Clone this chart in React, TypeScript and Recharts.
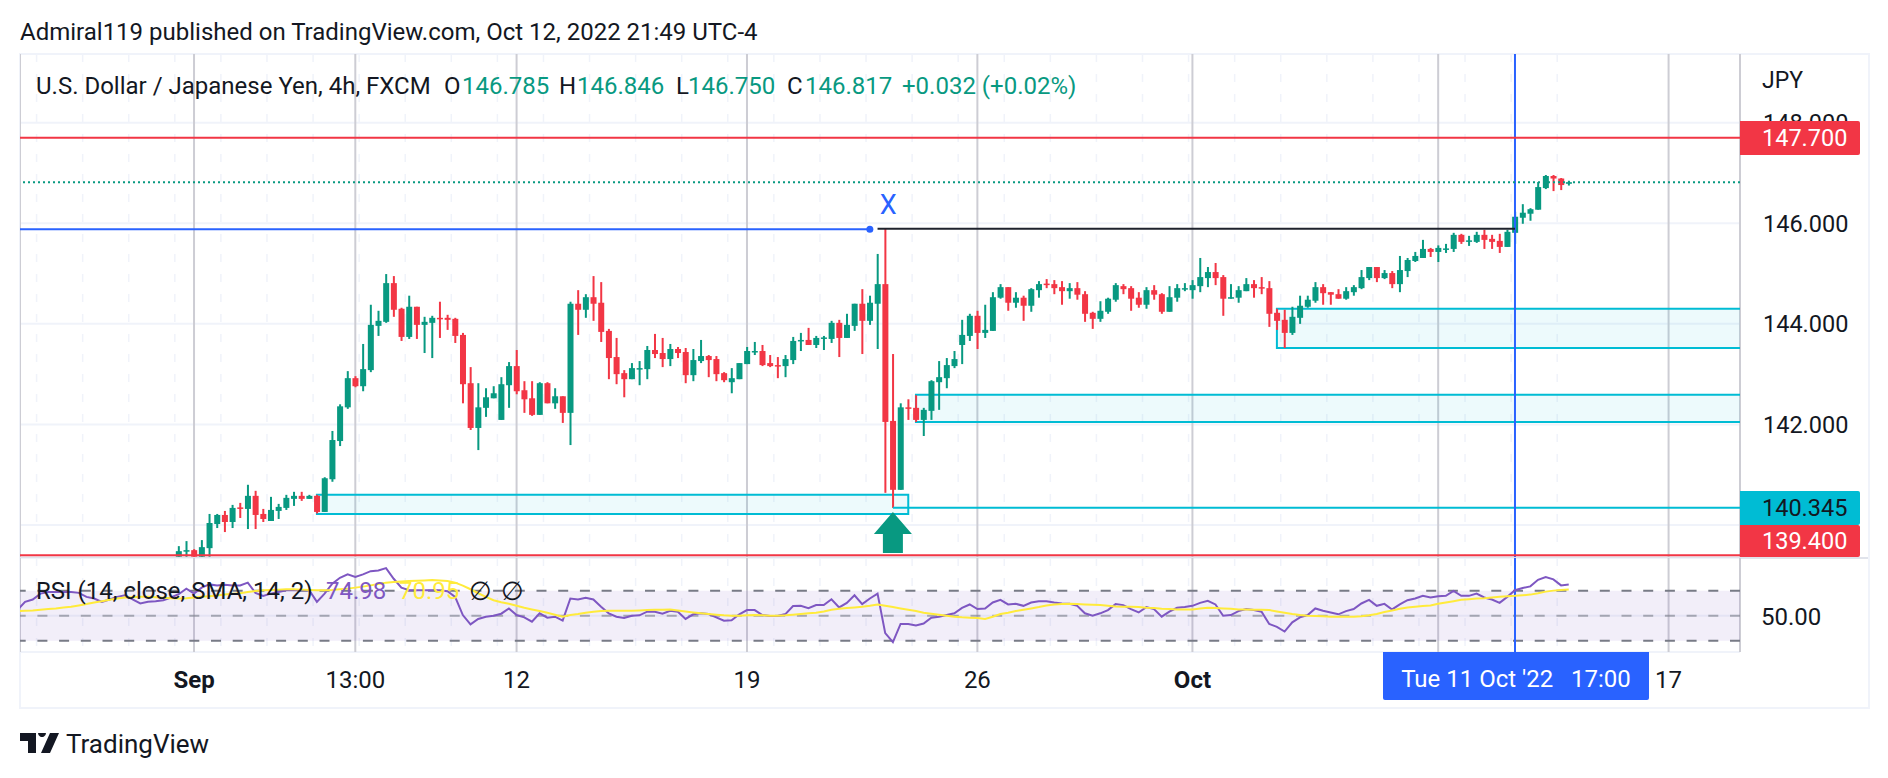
import { ComposedChart, Bar, Line, XAxis, YAxis, CartesianGrid, ReferenceLine, ReferenceArea, ReferenceDot } from "recharts";

const FIRST_CANDLE = -2;
const FIRST_RSI = -23;

const opens = [
  139.37,139.47,139.50,139.37,139.54,140.02,140.20,140.06,140.35,140.32,
  140.58,140.22,140.08,140.28,140.34,140.52,140.58,140.52,140.58,140.26,
  140.91,141.67,142.34,142.92,142.76,143.08,143.96,144.04,144.81,144.30,
  143.74,144.34,143.98,144.02,144.12,144.12,144.10,143.78,142.82,141.93,
  142.33,142.52,142.09,142.78,143.16,142.68,142.52,142.19,142.82,142.42,
  142.56,142.23,144.40,144.28,144.53,144.42,143.86,143.34,143.02,142.90,
  143.10,143.10,143.48,143.42,143.30,143.50,143.44,142.98,143.26,143.36,
  143.30,143.02,142.84,142.90,143.20,143.44,143.46,143.22,143.18,143.16,
  143.28,143.66,143.68,143.58,143.71,143.70,144.02,143.72,143.96,144.40,
  144.06,144.40,144.79,142.07,140.70,142.34,142.33,142.09,142.27,142.84,
  142.92,143.16,143.58,143.76,144.16,143.82,143.86,144.52,144.73,144.42,
  144.52,144.36,144.67,144.80,144.79,144.73,144.65,144.71,144.59,144.22,
  144.10,144.24,144.48,144.75,144.71,144.52,144.38,144.67,144.59,144.24,
  144.52,144.69,144.67,144.75,144.91,145.03,144.93,144.50,144.52,144.65,
  144.79,144.73,144.71,144.22,144.08,143.82,144.12,144.34,144.46,144.73,
  144.63,144.59,144.50,144.63,144.71,144.91,145.13,144.91,145.01,144.79,
  145.05,145.25,145.31,145.49,145.43,145.48,145.49,145.77,145.64,145.63,
  145.77,145.69,145.65,145.53,145.81,146.11,146.19,146.27,146.70,146.94,146.89,146.785,
];

const highs = [
  139.58,139.68,139.52,139.70,140.22,140.22,140.28,140.40,140.44,140.80,
  140.68,140.32,140.56,140.42,140.60,140.66,140.66,140.60,140.60,140.95,
  141.87,142.40,143.06,142.96,143.60,144.38,144.26,144.99,144.95,144.32,
  144.56,144.34,144.14,144.16,144.44,144.18,144.12,143.82,143.14,142.82,
  142.72,142.76,142.94,143.24,143.48,142.86,142.86,142.84,142.84,142.72,
  142.56,144.44,144.67,144.59,144.95,144.83,143.90,143.72,143.08,143.22,
  143.26,143.56,143.80,143.72,143.60,143.54,143.52,143.50,143.68,143.38,
  143.36,143.04,143.12,143.22,143.54,143.64,143.58,143.38,143.34,143.38,
  143.74,143.82,143.92,143.76,143.76,144.06,144.08,144.20,144.40,144.69,
  144.56,145.39,145.89,143.40,142.42,142.50,142.58,142.33,142.88,143.26,
  143.32,143.46,144.08,144.20,144.26,144.38,144.63,144.79,144.73,144.63,
  144.56,144.71,144.85,144.89,144.87,144.85,144.81,144.83,144.65,144.24,
  144.45,144.52,144.81,144.79,144.75,144.63,144.73,144.77,144.61,144.75,
  144.79,144.81,144.87,145.31,145.13,145.21,144.97,144.79,144.75,144.91,
  144.87,144.93,144.85,144.30,144.28,144.34,144.56,144.56,144.83,144.79,
  144.63,144.69,144.73,144.77,145.07,145.13,145.13,145.07,145.05,145.35,
  145.31,145.43,145.67,145.51,145.56,145.59,145.81,145.79,145.75,145.83,
  145.87,145.77,145.79,145.87,146.23,146.38,146.30,146.82,146.96,146.96,146.90,146.846,
];

const lows = [
  139.37,139.37,139.37,139.37,139.37,139.94,139.86,139.94,140.14,139.92,
  139.92,140.06,140.08,140.12,140.30,140.38,140.48,140.52,140.23,140.26,
  140.86,141.57,142.31,142.74,142.66,143.04,143.76,144.02,144.14,143.66,
  143.70,143.70,143.42,143.32,143.72,143.88,143.62,142.42,141.89,141.49,
  142.15,142.52,142.09,142.33,142.60,142.23,142.17,142.19,142.42,142.31,
  142.03,141.59,143.78,144.12,144.06,143.64,142.90,142.80,142.54,142.90,
  142.78,142.90,143.32,143.14,143.16,143.32,142.82,142.86,143.22,142.94,
  142.86,142.84,142.62,142.90,143.20,143.38,143.16,143.14,142.92,142.94,
  143.20,143.46,143.58,143.52,143.48,143.62,143.34,143.72,143.86,143.40,
  143.98,143.50,140.64,140.34,140.70,142.09,142.05,141.77,142.09,142.29,
  142.72,143.12,143.20,143.66,143.50,143.72,143.86,144.50,144.26,144.32,
  144.06,144.24,144.52,144.71,144.59,144.38,144.50,144.48,144.04,143.90,
  144.04,144.20,144.44,144.59,144.26,144.32,144.30,144.48,144.20,144.24,
  144.44,144.65,144.50,144.63,144.73,144.77,144.16,144.50,144.42,144.65,
  144.52,144.59,143.94,143.88,143.52,143.78,144.00,144.32,144.42,144.38,
  144.38,144.50,144.48,144.56,144.69,144.87,144.83,144.89,144.71,144.63,
  144.93,145.23,145.31,145.33,145.23,145.41,145.43,145.59,145.55,145.61,
  145.49,145.49,145.41,145.53,145.59,145.99,146.05,146.27,146.68,146.64,146.66,146.750,
];

const closes = [
  139.48,139.50,139.37,139.56,140.04,140.20,140.06,140.34,140.32,140.58,
  140.20,140.12,140.30,140.36,140.54,140.58,140.52,140.58,140.26,140.93,
  141.69,142.36,142.92,142.76,143.10,143.98,144.06,144.81,144.28,143.74,
  144.34,143.98,144.04,144.12,144.10,144.08,143.76,142.80,141.93,142.34,
  142.54,142.62,142.80,143.16,142.66,142.50,142.19,142.82,142.42,142.56,
  142.23,144.40,144.28,144.53,144.40,143.84,143.32,143.00,142.90,143.12,
  143.12,143.48,143.40,143.30,143.50,143.42,142.98,143.28,143.36,143.28,
  143.00,142.88,142.92,143.22,143.46,143.46,143.18,143.16,143.17,143.30,
  143.66,143.68,143.58,143.72,143.73,144.02,143.72,143.98,144.40,144.06,
  144.42,144.79,142.05,140.70,142.34,142.31,142.09,142.29,142.86,142.94,
  143.18,143.30,143.78,144.16,143.82,143.88,144.53,144.73,144.42,144.52,
  144.36,144.69,144.79,144.78,144.71,144.65,144.71,144.58,144.20,144.10,
  144.26,144.50,144.77,144.69,144.50,144.38,144.67,144.58,144.24,144.53,
  144.71,144.71,144.77,144.93,145.03,144.91,144.50,144.53,144.67,144.79,
  144.71,144.70,144.20,144.06,143.82,144.14,144.36,144.48,144.73,144.61,
  144.58,144.50,144.65,144.73,144.93,145.13,144.91,145.01,144.79,145.07,
  145.27,145.35,145.49,145.43,145.51,145.50,145.77,145.63,145.66,145.77,
  145.67,145.63,145.53,145.83,146.13,146.21,146.28,146.72,146.94,146.89,146.76,146.817,
];

const rsiValues = [
  54.5,61.1,63.0,67.7,69.0,69.0,69.0,69.0,68.3,65.1,
  63.8,61.1,63.0,65.1,66.4,63.0,59.8,61.1,61.6,62.4,
  64.6,67.2,71.7,67.7,72.5,75.1,74.3,74.9,74.3,74.3,
  76.5,68.3,65.9,67.7,69.0,70.4,70.4,70.4,70.4,61.1,
  67.7,75.7,80.4,83.1,81.0,83.1,85.7,86.2,88.1,79.6,
  72.5,70.4,70.4,70.4,70.4,70.4,69.6,65.1,50.5,43.1,
  47.4,49.2,50.0,51.6,55.8,50.5,48.7,45.2,51.9,48.4,
  49.2,46.0,63.8,63.0,64.3,63.0,57.1,51.9,49.2,48.1,
  50.0,50.3,53.2,53.2,51.6,54.0,53.2,47.4,51.1,51.9,
  51.3,48.7,46.0,46.3,51.1,54.5,54.5,50.5,49.7,49.7,
  51.3,57.7,57.9,56.1,58.5,58.5,63.2,56.6,60.3,66.4,
  59.3,63.8,67.7,36.0,28.8,43.4,43.4,42.1,43.7,48.4,
  49.2,50.5,51.9,56.3,59.0,55.3,55.8,60.6,62.7,59.0,
  59.5,57.9,60.6,61.6,61.6,60.6,59.8,59.5,57.9,51.9,
  50.0,51.9,54.5,59.3,58.5,55.3,52.6,56.9,55.3,49.2,
  53.2,56.3,56.9,57.9,60.3,61.9,59.0,50.0,50.5,53.7,
  55.3,54.5,53.2,43.4,41.0,37.3,44.7,48.7,50.5,55.8,
  54.0,52.6,51.1,53.7,55.3,59.8,62.7,57.9,59.5,55.0,
  59.0,62.4,63.8,65.9,64.6,65.6,65.9,69.8,65.9,65.9,
  67.7,64.6,63.0,60.3,65.1,70.4,72.2,73.5,78.8,81.0,
  79.1,74.3,74.98,
];

const rsiMaValues = [
  53.7,54.0,54.2,54.8,55.3,55.8,56.6,57.1,58.2,59.3,
  60.6,61.6,62.7,63.8,64.6,64.8,65.1,65.1,64.8,64.3,
  64.0,63.8,64.0,64.6,65.1,65.6,66.1,66.9,67.5,68.0,
  69.0,69.8,70.4,70.6,70.9,71.2,71.2,70.9,70.6,70.4,
  70.4,70.6,71.2,71.7,72.5,73.3,74.3,75.4,76.5,77.0,
  77.5,77.8,78.0,78.3,78.6,78.3,77.8,76.5,74.1,71.2,
  68.0,65.1,62.4,60.8,59.5,57.9,56.3,55.0,53.7,52.4,
  50.8,49.2,50.5,51.3,52.4,53.2,53.7,54.0,54.0,54.0,
  54.0,54.2,54.5,54.8,54.8,55.0,54.2,53.4,52.6,51.9,
  51.3,50.8,50.3,50.0,50.0,50.3,50.5,50.3,50.0,50.0,
  50.3,50.8,51.3,51.9,52.4,53.4,54.8,55.6,56.1,56.6,
  57.1,57.9,59.0,57.9,56.9,55.8,54.8,53.7,52.4,51.6,
  50.8,50.0,49.2,48.7,48.4,48.1,47.4,49.2,51.3,52.4,
  53.7,54.8,55.8,56.9,58.2,59.0,59.3,59.5,59.3,59.0,
  58.7,58.5,57.9,57.4,57.1,57.1,56.9,56.3,56.1,55.6,
  55.3,55.0,55.0,55.0,55.8,56.3,56.1,55.8,55.6,55.0,
  55.0,54.8,54.8,54.5,53.4,52.4,51.3,50.5,50.0,49.7,
  49.5,49.2,49.2,49.2,49.2,49.5,50.3,51.3,52.9,54.2,
  55.6,56.6,57.1,57.7,58.2,59.5,60.6,61.6,62.7,63.2,
  63.8,64.0,64.6,65.1,65.6,65.9,66.4,66.9,68.0,69.3,
  70.1,70.6,70.95,
];

// time axis labels and the bar index they sit on (10 Oct is covered by the crosshair date)
const timeTicks = [0, 21, 42, 72, 102, 130, 162, 192];
const timeLabels = ["Sep", "13:00", "12", "19", "26", "Oct", "", "17"];
const boldLabels = ["Sep", "Oct"];
const minorTimeTicks = [
  -20.5, -14.5, -8.5, -2.5, 3.5, 9.5, 15.5, 21.5, 27.5, 33.5, 39.5, 45.5, 51.5, 57.5, 63.5, 69.5, 75.5,
  81.5, 87.5, 93.5, 99.5, 105.5, 111.5, 117.5, 123.5, 129.5, 135.5, 141.5, 147.5, 153.5, 159.5, 165.5, 171.5, 177.5,
];
const priceTicks = [140, 142, 144, 146, 148];
const rsiTicks = [50];

const CROSSHAIR_BAR = 172;
const LAST_PRICE = 146.817;
const RED_LEVELS = [147.7, 139.4];
const X_DOMAIN = [-22.66, 201.3];

const GREEN = "#089981";
const RED = "#f23645";
const CYAN = "#00bcd4";
const BLUE = "#2962ff";
const INK = "#131722";
const FONT = "Roboto, sans-serif";

const candleData = opens.map((open, k) => ({
  bar: FIRST_CANDLE + k,
  open,
  high: highs[k],
  low: lows[k],
  close: closes[k],
}));

const rsiData = rsiValues.map((rsi, k) => ({
  bar: FIRST_RSI + k,
  rsi,
  ma: rsiMaValues[k],
}));

// the grid sits under the cyan boxes, reference lines would not
function minorGridLines({ offset }: any) {
  const [from, to] = X_DOMAIN;
  return minorTimeTicks.map((t) => offset.left + ((t - from) / (to - from)) * offset.width);
}

function Candle(props: any) {
  const { x, y, width, height, payload } = props;
  const { open, high, low, close } = payload;
  const color = close >= open ? GREEN : RED;
  const perUnit = high > low ? height / (high - low) : 0;
  const bodyTop = y + (high - Math.max(open, close)) * perUnit;
  const bodyHeight = Math.max(Math.abs(open - close) * perUnit, 1.5);
  const mid = x + width / 2;
  return (
    <g>
      <rect x={mid - 1} y={y} width={2} height={Math.max(height, 1)} fill={color} />
      <rect x={x} y={bodyTop} width={width} height={bodyHeight} fill={color} />
    </g>
  );
}

function UpArrow(props: any) {
  const { cx, cy } = props;
  return (
    <path
      d={`M${cx} ${cy - 22}L${cx + 19} ${cy}H${cx + 10}V${cy + 19}H${cx - 10}V${cy}H${cx - 19}Z`}
      fill={GREEN}
    />
  );
}

function TimeTick(props: any) {
  const { x, y, payload } = props;
  const label = timeLabels[timeTicks.indexOf(payload.value)];
  return (
    <text
      x={x}
      y={y + 28}
      textAnchor="middle"
      fontFamily={FONT}
      fontSize={24}
      fontWeight={boldLabels.includes(label) ? 700 : 400}
      fill={INK}
    >
      {label}
    </text>
  );
}

function Label(props: any) {
  const { x, y, w, h, bg, color, children } = props;
  return (
    <div
      style={{
        position: "absolute",
        left: x,
        top: y,
        width: w,
        height: h,
        background: bg,
        color,
        borderRadius: "0 2px 2px 0",
        fontSize: 23.5,
        lineHeight: `${h}px`,
        paddingLeft: 22,
        boxSizing: "border-box",
      }}
    >
      {children}
    </div>
  );
}

function Txt(props: any) {
  const { x, y, size = 24, color = INK, family, children } = props;
  return (
    <span style={{ position: "absolute", left: x, top: y, fontSize: size, color, fontFamily: family, whiteSpace: "pre", lineHeight: "26px" }}>
      {children}
    </span>
  );
}

export default function App() {
  return (
    <div style={{ position: "absolute", left: 0, top: 0, width: 1888, height: 778, background: "#fff", fontFamily: FONT, overflow: "hidden" }}>
      <Txt x={20} y={19}>Admiral119 published on TradingView.com, Oct 12, 2022 21:49 UTC-4</Txt>

      {/* frame */}
      <div style={{ position: "absolute", left: 19, top: 53, width: 1851, height: 656, border: "2px solid #f0f3fa", boxSizing: "border-box" }} />

      {/* price pane */}
      <div style={{ position: "absolute", left: 20, top: 54 }}>
        <ComposedChart width={1848} height={503} data={candleData} margin={{ top: 0, right: 0, bottom: 0, left: 0 }}>
          <CartesianGrid vertical={false} stroke="#f0f3fa" strokeWidth={2} />
          <CartesianGrid horizontal={false} stroke="#f0f3fa" strokeWidth={1.5} strokeDasharray="8 12" verticalCoordinatesGenerator={minorGridLines} />
          <CartesianGrid horizontal={false} stroke="#cdcdd4" strokeWidth={2} />
          <XAxis dataKey="bar" type="number" domain={X_DOMAIN} ticks={timeTicks} allowDataOverflow hide />
          <YAxis
            orientation="right"
            width={128}
            domain={[139.364, 149.366]}
            ticks={priceTicks}
            interval={0}
            allowDataOverflow
            axisLine={false}
            tickLine={false}
            tickMargin={17}
            tickFormatter={(v: number) => (v === 140 ? "" : v.toFixed(3))}
            tick={{ fontSize: 23.5, fill: INK, fontFamily: FONT }}
          />
          <ReferenceArea x1={16} x2={93} y1={140.22} y2={140.6} fill={CYAN} fillOpacity={0.07} stroke={CYAN} strokeWidth={2} strokeOpacity={1} />
          <ReferenceArea x1={94} x2={215} y1={142.05} y2={142.59} fill={CYAN} fillOpacity={0.07} stroke={CYAN} strokeWidth={2} strokeOpacity={1} ifOverflow="hidden" />
          <ReferenceArea x1={141} x2={215} y1={143.52} y2={144.3} fill={CYAN} fillOpacity={0.07} stroke={CYAN} strokeWidth={2} strokeOpacity={1} ifOverflow="hidden" />
          <ReferenceLine segment={[{ x: 91, y: 140.345 }, { x: 201.3, y: 140.345 }]} stroke={CYAN} strokeWidth={2} />
          <ReferenceLine x={CROSSHAIR_BAR} stroke={BLUE} strokeWidth={2} />
          {RED_LEVELS.map((p) => (
            <ReferenceLine key={p} y={p} stroke={RED} strokeWidth={2} />
          ))}
          <ReferenceLine y={LAST_PRICE} stroke={GREEN} strokeWidth={2} strokeDasharray="2 3" />
          <ReferenceLine segment={[{ x: -22.66, y: 145.88 }, { x: 88, y: 145.88 }]} stroke={BLUE} strokeWidth={2} />
          <ReferenceLine segment={[{ x: 89, y: 145.89 }, { x: 172, y: 145.89 }]} stroke="#1e222d" strokeWidth={2} />
          <ReferenceDot x={88} y={145.88} r={3.5} fill={BLUE} stroke="none" />
          <ReferenceDot
            x={90.4}
            y={146.38}
            r={0}
            label={{ value: "X", position: "center", fill: BLUE, fontSize: 27, fontFamily: FONT }}
          />
          <Bar dataKey={(d: any) => [d.low, d.high]} barSize={6} shape={Candle} isAnimationActive={false} />
          <ReferenceDot x={91} y={139.82} r={1} shape={UpArrow} />
        </ComposedChart>
      </div>

      {/* pane separator */}
      <div style={{ position: "absolute", left: 20, top: 556.5, width: 1848, height: 2, background: "#e0e3eb" }} />

      {/* rsi pane */}
      <div style={{ position: "absolute", left: 20, top: 558 }}>
        <ComposedChart width={1848} height={149} data={rsiData} margin={{ top: 0, right: 0, bottom: 0, left: 0 }}>
          <CartesianGrid vertical={false} stroke="#f0f3fa" strokeWidth={2} />
          <CartesianGrid horizontal={false} stroke="#f0f3fa" strokeWidth={1.5} strokeDasharray="8 12" verticalCoordinatesGenerator={minorGridLines} />
          <CartesianGrid horizontal={false} stroke="#cdcdd4" strokeWidth={2} />
          <XAxis
            dataKey="bar"
            type="number"
            domain={X_DOMAIN}
            ticks={timeTicks}
            interval={0}
            allowDataOverflow
            height={55}
            axisLine={false}
            tickLine={false}
            tick={TimeTick}
          />
          <YAxis
            orientation="right"
            width={128}
            domain={[20.9, 96.25]}
            ticks={rsiTicks}
            interval={0}
            allowDataOverflow
            axisLine={false}
            tickLine={false}
            tickMargin={15}
            tickFormatter={(v: number) => v.toFixed(2)}
            tick={{ fontSize: 24, fill: INK, fontFamily: FONT, dy: 1 }}
          />
          <ReferenceArea y1={30} y2={70} fill="#7e57c2" fillOpacity={0.1} stroke="none" />
          <ReferenceLine y={70} stroke="#787b86" strokeWidth={2} strokeDasharray="10 11.7" />
          <ReferenceLine y={50} stroke="#787b86" strokeOpacity={0.6} strokeWidth={2} strokeDasharray="10 11.7" />
          <ReferenceLine y={30} stroke="#787b86" strokeWidth={2} strokeDasharray="10 11.7" />
          <ReferenceLine x={CROSSHAIR_BAR} stroke={BLUE} strokeWidth={2} />
          <Line dataKey="rsi" stroke="#7e57c2" strokeWidth={2} dot={false} isAnimationActive={false} />
          <Line dataKey="ma" stroke="#ffeb3b" strokeWidth={2} dot={false} isAnimationActive={false} />
        </ComposedChart>
      </div>

      {/* legend */}
      <Txt x={36} y={73}>U.S. Dollar / Japanese Yen, 4h, FXCM</Txt>
      <Txt x={444} y={73}>O</Txt>
      <Txt x={462} y={73} color={GREEN}>146.785</Txt>
      <Txt x={559} y={73}>H</Txt>
      <Txt x={577} y={73} color={GREEN}>146.846</Txt>
      <Txt x={676} y={73}>L</Txt>
      <Txt x={688} y={73} color={GREEN}>146.750</Txt>
      <Txt x={787} y={73}>C</Txt>
      <Txt x={805} y={73} color={GREEN}>146.817</Txt>
      <Txt x={902} y={73} color={GREEN}>+0.032 (+0.02%)</Txt>

      {/* rsi legend */}
      <Txt x={36} y={578}>RSI (14, close, SMA, 14, 2)</Txt>
      <Txt x={326} y={578} color="#7e57c2">74.98</Txt>
      <Txt x={399} y={578} color="#ffeb3b">70.95</Txt>
      <Txt x={469} y={578} size={26} family="'DejaVu Sans'">∅</Txt>
      <Txt x={501} y={578} size={26} family="'DejaVu Sans'">∅</Txt>

      <Txt x={1762} y={68} size={23}>JPY</Txt>

      {/* last price labels */}
      <Label x={1740} y={121} w={120} h={34} bg={RED} color="#fff">147.700</Label>
      <Label x={1740} y={491} w={120} h={34} bg={CYAN} color={INK}>140.345</Label>
      <Label x={1740} y={525} w={120} h={32} bg={RED} color="#fff">139.400</Label>

      {/* crosshair date */}
      <div style={{ position: "absolute", left: 1383, top: 652, width: 266, height: 48, background: BLUE, borderRadius: "0 0 2px 2px", color: "#fff", fontSize: 24, lineHeight: "54px", textAlign: "center", whiteSpace: "pre" }}>
        Tue 11 Oct '22   17:00
      </div>

      {/* logo */}
      <svg style={{ position: "absolute", left: 20, top: 733 }} width={39} height={20} viewBox="0 0 39 20">
        <path d="M0 0H16V20H8V8H0Z M18 0a4 4 0 1 1 0 0.01Z M30 0H39L30 20H21Z" fill={INK} />
      </svg>
      <Txt x={66} y={731} size={26}>TradingView</Txt>
    </div>
  );
}
